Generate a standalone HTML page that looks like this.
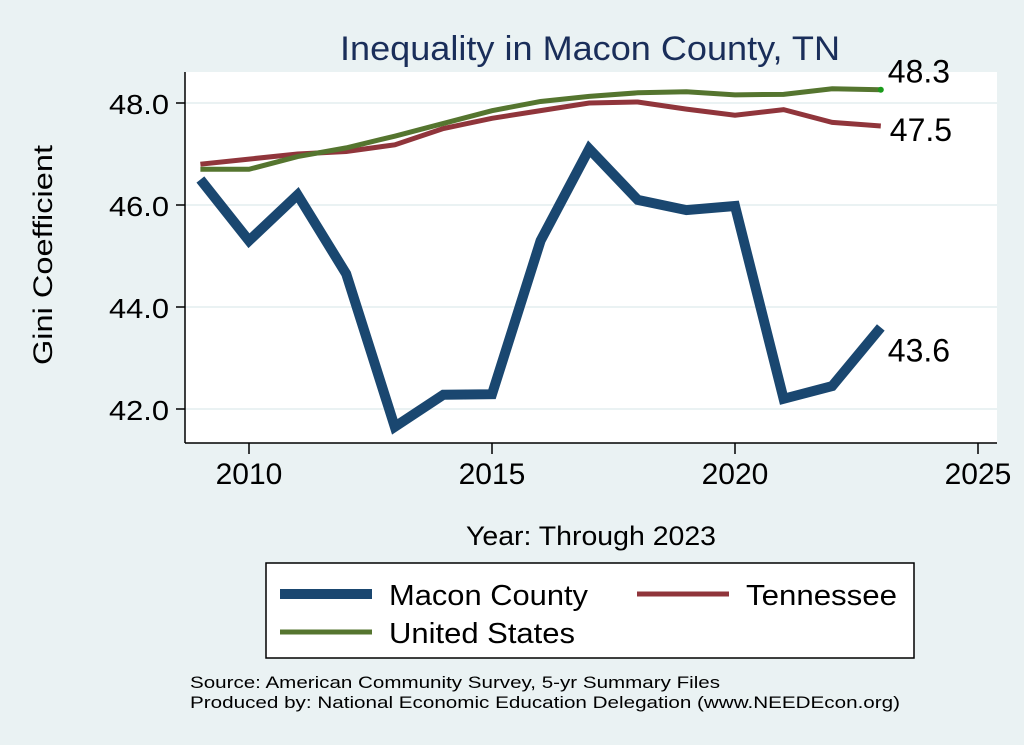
<!DOCTYPE html>
<html><head><meta charset="utf-8"><style>
body{margin:0;background:#eaf2f3;}
svg{display:block;font-family:"Liberation Sans",Arial,sans-serif;}
</style></head><body>
<svg width="1024" height="745" viewBox="0 0 1024 745">
<rect x="0" y="0" width="1024" height="745" fill="#eaf2f3"/>
<rect x="185" y="72" width="812" height="371" fill="#ffffff"/>
<text x="340" y="60" font-size="34" fill="#1a2e5a" textLength="500" lengthAdjust="spacingAndGlyphs">Inequality in Macon County, TN</text>
<g id="grid"></g>
<g id="axes"></g>
<g id="series"></g>
<text x="52" y="255" font-size="27" text-anchor="middle" textLength="220" lengthAdjust="spacingAndGlyphs" transform="rotate(-90 52 255)">Gini Coefficient</text>
<text x="466" y="545" font-size="27" textLength="250" lengthAdjust="spacingAndGlyphs">Year: Through 2023</text>
<g>
<rect x="266" y="563" width="648" height="95" fill="#fff" stroke="#000" stroke-width="1.5"/>
<line x1="280" y1="594" x2="372" y2="594" stroke="#1a4770" stroke-width="10"/>
<text x="389" y="605" font-size="29" textLength="199" lengthAdjust="spacingAndGlyphs">Macon County</text>
<line x1="637" y1="594" x2="729" y2="594" stroke="#90353b" stroke-width="5"/>
<text x="746" y="605" font-size="29" textLength="151" lengthAdjust="spacingAndGlyphs">Tennessee</text>
<line x1="280" y1="632" x2="372" y2="632" stroke="#55752f" stroke-width="5"/>
<text x="389" y="643" font-size="29" textLength="186" lengthAdjust="spacingAndGlyphs">United States</text>
</g>
<text x="190" y="688" font-size="17" textLength="530" lengthAdjust="spacingAndGlyphs">Source: American Community Survey, 5-yr Summary Files</text>
<text x="190" y="708" font-size="17" textLength="710" lengthAdjust="spacingAndGlyphs">Produced by: National Economic Education Delegation (www.NEEDEcon.org)</text>
</svg>
<script>
const years=[2009,2010,2011,2012,2013,2014,2015,2016,2017,2018,2019,2020,2021,2022,2023];
const macon=[46.5,45.3,46.2,44.65,41.65,42.28,42.29,45.3,47.1,46.1,45.9,45.98,42.2,42.45,43.6];
const tennessee=[46.8,46.9,47.0,47.05,47.18,47.5,47.7,47.85,48.0,48.02,47.88,47.76,47.87,47.62,47.55];
const unitedStates=[46.7,46.7,46.95,47.12,47.35,47.6,47.85,48.03,48.13,48.2,48.22,48.16,48.17,48.28,48.26];
const yTicks=[42,44,46,48];
const xTicks=[2010,2015,2020,2025];
const endLabels=["43.6","47.5","48.3"];
const NS="http://www.w3.org/2000/svg";
const xs=y=>249+(y-2010)*48.6;
const ys=v=>103+(48-v)*51;
function mk(tag,attrs,parent){const e=document.createElementNS(NS,tag);for(const k in attrs)e.setAttribute(k,attrs[k]);parent.appendChild(e);return e;}
const grid=document.getElementById('grid'),axes=document.getElementById('axes'),ser=document.getElementById('series');
yTicks.forEach(t=>{
 const g=mk('line',{x1:185,x2:997,y1:ys(t),y2:ys(t),stroke:'#eaf2f3','stroke-width':2},grid);
 
 
 const k=mk('line',{x1:176,x2:185,y1:ys(t),y2:ys(t),stroke:'#000','stroke-width':1.5},axes);
 
 
 const l=mk('text',{x:169,y:ys(t)+11,'font-size':28,'text-anchor':'end',textLength:60,lengthAdjust:'spacingAndGlyphs'},axes);
 l.textContent=t.toFixed(1);
 
 
});
xTicks.forEach(t=>{
 const k=mk('line',{x1:xs(t),x2:xs(t),y1:443,y2:454,stroke:'#000','stroke-width':1.5},axes);
 
 
 const l=mk('text',{x:xs(t),y:484,'font-size':30,'text-anchor':'middle'},axes);
 l.textContent=t;
 
 
});
const ya=mk('line',{x1:185,x2:185,y1:72,y2:443,stroke:'#000','stroke-width':1.5},axes);


const xa=mk('line',{x1:185,x2:997,y1:443,y2:443,stroke:'#000','stroke-width':1.5},axes);


function line(vals,color,w,name){
 const p=mk('polyline',{points:vals.map((v,i)=>xs(years[i])+','+ys(v)).join(' '),fill:'none',stroke:color,'stroke-width':w,'stroke-linejoin':'miter'},ser);
 
 
}
line(tennessee,'#90353b',5,'tennessee-line');
line(unitedStates,'#55752f',5,'us-line');
line(macon,'#1a4770',10,'macon-line');
const n=years.length-1;
const dot=mk('circle',{cx:xs(years[n]),cy:ys(unitedStates[n]),r:3,fill:'#1a9a1a'},ser);


const lm=mk('text',{x:xs(years[n])+7,y:ys(macon[n])+34,'font-size':32},ser);
lm.textContent=endLabels[0];


const lt=mk('text',{x:xs(years[n])+9,y:ys(tennessee[n])+15,'font-size':32},ser);
lt.textContent=endLabels[1];


const lu=mk('text',{x:xs(years[n])+7,y:ys(unitedStates[n])-7,'font-size':32},ser);
lu.textContent=endLabels[2];


</script>
</body></html>
